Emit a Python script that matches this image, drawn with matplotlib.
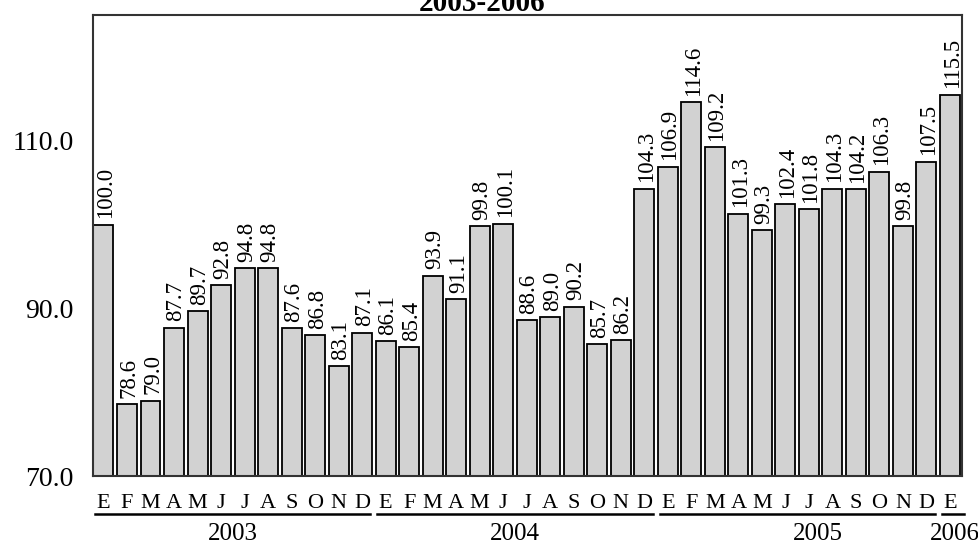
import matplotlib
matplotlib.use('Agg')
import matplotlib.pyplot as plt
import numpy as np

plt.rcParams['font.family'] = ['Liberation Serif', 'DejaVu Serif']

# Monthly index values, Jan 2003 - Jan 2006
values_2003 = [100.0, 78.6, 79.0, 87.7, 89.7, 92.8, 94.8, 94.8, 87.6, 86.8, 83.1, 87.1]
values_2004 = [86.1, 85.4, 93.9, 91.1, 99.8, 100.1, 88.6, 89.0, 90.2, 85.7, 86.2, 104.3]
values_2005 = [106.9, 114.6, 109.2, 101.3, 99.3, 102.4, 101.8, 104.3, 104.2, 106.3, 99.8, 107.5]
values_2006 = [115.5]

months = ['E', 'F', 'M', 'A', 'M', 'J', 'J', 'A', 'S', 'O', 'N', 'D']
years = ['2003', '2004', '2005', '2006']
y_ticks = [70.0, 90.0, 110.0]
title = '2003-2006'

series = [values_2003, values_2004, values_2005, values_2006]
values = np.concatenate(series)
labels = [m for s in series for m in months[:len(s)]]
x = np.arange(len(values))

fig = plt.figure(figsize=(9.79, 5.44), dpi=100)
ax = fig.add_axes([0.095, 0.125, 0.8875, 0.8474])

bw = 0.85
ax.bar(x, values - 70.0, bottom=70.0, width=bw, color='#d2d2d2',
       edgecolor='black', linewidth=1.3)

for xi, v in zip(x, values):
    ax.annotate(f'{v:.1f}', (xi, v), xytext=(1.5, 4.5), textcoords='offset points',
                rotation=90, ha='center', va='bottom', fontsize=16.5)

ax.set_ylim(70, 125)
ax.set_xlim(-bw / 2 - 0.02, len(values) - 1 + bw / 2 + 0.08)
ax.set_yticks(y_ticks)
ax.set_yticklabels([f'{t:.1f}' for t in y_ticks], fontsize=20)
ax.tick_params(axis='y', length=0, pad=14)
ax.set_xticks(x)
ax.set_xticklabels(labels, fontsize=16)
ax.tick_params(axis='x', length=0, pad=13)
for sp in ax.spines.values():
    sp.set_linewidth(1.5)
    sp.set_color('#333333')

# year brackets: underline each group of months and put the year below
start = 0
year_offsets = [0.0, 0.0, 0.9, 0.2]
for s, yr, off in zip(series, years, year_offsets):
    n = len(s)
    x0, x1 = start - 0.35, start + n - 1 + (0.35 if n > 1 else 0.6)
    ax.plot([x0, x1], [-0.083, -0.083], transform=ax.get_xaxis_transform(),
            color='black', linewidth=1.8, clip_on=False)
    ax.text(start + (n - 1) / 2 + off, -0.102, yr, transform=ax.get_xaxis_transform(),
            ha='center', va='top', fontsize=18)
    start += n

fig.text(482 / 979, 1 - 11 / 544, title, ha='center', va='baseline',
         fontsize=21, fontweight='bold')

fig.savefig('out.png', dpi=100)
